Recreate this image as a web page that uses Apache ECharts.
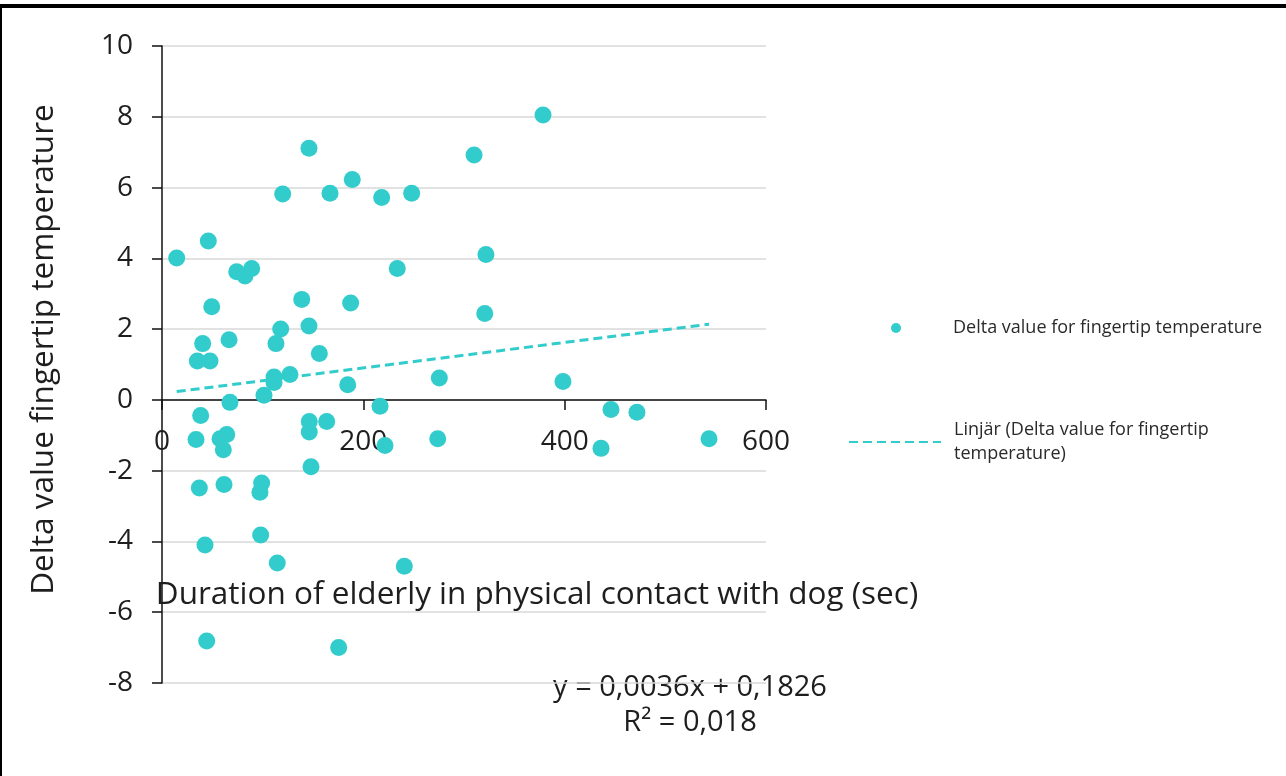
<!DOCTYPE html>
<html>
<head>
<meta charset="utf-8">
<script src="https://cdn.jsdelivr.net/npm/echarts@6/dist/echarts.min.js"></script>
<style>
  html, body { margin: 0; padding: 0; background: #fff; }
  #chart { width: 1286px; height: 776px; }
</style>
</head>
<body>
<div id="chart"></div>
<script>
// Contact duration (sec) and fingertip temperature change per participant
const durationSec = [
  14.6, 46.0, 74.2, 82.4, 89.1, 49.4, 40.4, 35.1, 47.7, 66.6,
  67.5, 38.4, 33.8, 57.6, 64.3, 60.9, 37.1, 61.6, 42.7, 44.4,
  99.0, 97.3, 98.0, 114.5, 101.3, 111.3, 111.3, 127.1, 113.2, 117.9,
  119.9, 138.8, 146.0, 146.0, 156.3, 146.3, 146.3, 163.6, 148.0, 166.9,
  175.5, 189.0, 187.4, 184.5, 218.2, 216.6, 221.5, 233.7, 248.0, 240.7,
  275.5, 273.9, 310.0, 321.8, 320.6, 378.5, 398.3, 446.0, 471.8, 436.1,
  543.4
];
const deltaTemp = [
  4.01, 4.49, 3.62, 3.50, 3.71, 2.63, 1.59, 1.10, 1.10, 1.70,
  -0.07, -0.44, -1.12, -1.10, -0.98, -1.41, -2.49, -2.39, -4.10, -6.81,
  -2.35, -2.61, -3.82, -4.61, 0.13, 0.65, 0.49, 0.72, 1.59, 2.00,
  5.82, 2.84, 7.11, 2.09, 1.31, -0.61, -0.91, -0.61, -1.89, 5.84,
  -7.00, 6.23, 2.74, 0.43, 5.72, -0.18, -1.29, 3.71, 5.84, -4.70,
  0.62, -1.10, 6.92, 4.11, 2.44, 8.05, 0.52, -0.27, -0.35, -1.37,
  -1.10
];

// Linear trendline as stated on the chart
const trendSlope = 0.0036;
const trendIntercept = 0.1826;
const trendR2 = 0.018;

// Axis ranges and tick steps
const xRange = [0, 600];
const xStep = 200;
const yRange = [-8, 10];
const yStep = 2;

const seriesName = 'Delta value for fingertip temperature';
const trendName = 'Linjär (Delta value for fingertip temperature)';
const xTitle = 'Duration of elderly in physical contact with dog (sec)';
const yTitle = 'Delta value fingertip temperature';

const TEAL = '#33cccc';
const TEXT = '#1e1e1e';
const FONT = '"Open Sans", "DejaVu Sans", sans-serif';

// Plot box in pixels
const GRID = { left: 162, right: 520, top: 46, bottom: 93 };
const plotHeight = 776 - GRID.top - GRID.bottom;
// The x axis crosses the y axis at 0: shift it up from the bottom edge
const xAxisShift = -plotHeight * (0 - yRange[0]) / (yRange[1] - yRange[0]);

const points = durationSec.map((x, i) => [x, deltaTemp[i]]);
const xMin = Math.min(...durationSec);
const xMax = Math.max(...durationSec);
const trendPoints = [xMin, xMax].map(x => [x, trendSlope * x + trendIntercept]);

const comma = v => String(v).replace('.', ',');
const equationText = 'y = ' + comma(trendSlope) + 'x + ' + comma(trendIntercept);
const r2Text = 'R\u00b2 = ' + comma(trendR2);

const chart = echarts.init(document.getElementById('chart'), null, { renderer: 'canvas' });

chart.setOption({
  animation: false,
  backgroundColor: '#ffffff',
  textStyle: { fontFamily: FONT },
  grid: Object.assign({ containLabel: false, outerBoundsMode: 'none' }, GRID),
  xAxis: {
    type: 'value',
    min: xRange[0], max: xRange[1], interval: xStep,
    position: 'bottom',
    offset: xAxisShift,
    axisLine: { onZero: false, lineStyle: { color: '#111', width: 1.5 } },
    axisTick: { show: true, inside: false, length: 10, lineStyle: { color: '#111', width: 1.5 } },
    axisLabel: { margin: 28, fontSize: 28, color: TEXT, fontFamily: FONT },
    splitLine: { show: false },
    name: xTitle,
    nameLocation: 'middle',
    nameGap: 179,
    nameTextStyle: { fontSize: 31.5, color: TEXT, fontFamily: FONT, padding: [0, 0, 0, 146] }
  },
  yAxis: {
    type: 'value',
    min: yRange[0], max: yRange[1], interval: yStep,
    axisLine: { show: true, lineStyle: { color: '#111', width: 1.5 } },
    axisTick: { show: true, inside: false, length: 10, lineStyle: { color: '#111', width: 1.5 } },
    axisLabel: { margin: 29, fontSize: 28, color: TEXT, fontFamily: FONT },
    splitLine: { show: true, lineStyle: { color: '#d9d9d9', width: 1.5 } },
    name: yTitle,
    nameLocation: 'middle',
    nameGap: 102,
    nameRotate: 90,
    nameTextStyle: { fontSize: 31.5, color: TEXT, fontFamily: FONT, padding: [0, 0, 0, 30] }
  },
  legend: [
    {
      data: [seriesName],
      left: 886, top: 314,
      itemWidth: 10, itemHeight: 10,
      selectedMode: false,
      textStyle: { fontSize: 18, color: '#2a2a2a', fontFamily: FONT, padding: [0, 0, 0, 47] }
    },
    {
      data: [trendName],
      left: 843, top: 401,
      itemWidth: 92, itemHeight: 10,
      selectedMode: false,
      itemStyle: { opacity: 0 },
      formatter: name => name.replace(' temperature)', '\ntemperature)'),
      textStyle: { fontSize: 18, lineHeight: 24, color: '#2a2a2a', fontFamily: FONT, padding: [24, 0, 0, 8] }
    }
  ],
  series: [
    {
      name: seriesName,
      type: 'scatter',
      data: points,
      symbol: 'circle',
      symbolSize: 17,
      itemStyle: { color: TEAL, opacity: 1 },
      z: 3
    },
    {
      name: trendName,
      type: 'line',
      data: trendPoints,
      showSymbol: false,
      symbol: 'none',
      lineStyle: { color: TEAL, width: 3, type: [9, 5] },
      itemStyle: { color: TEAL },
      z: 2
    }
  ],
  graphic: [
    { type: 'rect', left: 0, top: 4, shape: { width: 1286, height: 4 }, style: { fill: '#000' }, silent: true },
    { type: 'rect', left: 0, top: 4, shape: { width: 2, height: 772 }, style: { fill: '#000' }, silent: true },
    {
      type: 'text', x: 690, y: 688,
      style: { text: equationText, fontSize: 29, fontFamily: FONT, fill: TEXT, align: 'center', verticalAlign: 'middle' }
    },
    {
      type: 'text', x: 690, y: 723,
      style: { text: r2Text, fontSize: 29, fontFamily: FONT, fill: TEXT, align: 'center', verticalAlign: 'middle' }
    }
  ]
});
</script>
</body>
</html>
